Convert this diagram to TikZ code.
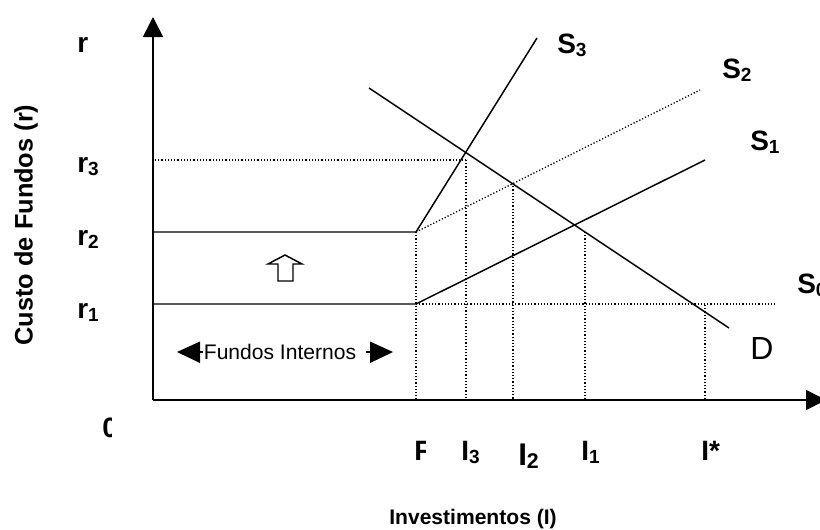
\documentclass[tikz,border=0pt]{standalone}
\usepackage{fontspec}
\setmainfont{Liberation Sans}
\usetikzlibrary{arrows.meta}
\newcommand{\lsub}[1]{\raisebox{-2.4pt}{\scalebox{0.68}{#1}}}
\begin{document}
\begin{tikzpicture}[x=0.75pt,y=-0.75pt,
  axis/.style={line width=1.2pt,-{Triangle[length=15pt,width=15pt]}},
  curve/.style={line width=1.1pt},
  dots/.style={line width=1pt,dash pattern=on 0.9pt off 1.5pt},
  lbl/.style={font=\fontsize{21}{22}\selectfont\bfseries,inner sep=0pt,anchor=base west},
  slbl/.style={font=\fontsize{21}{22}\selectfont\bfseries,inner sep=0pt,anchor=base west},
  ilbl/.style={font=\fontsize{21}{22}\selectfont\bfseries,inner sep=0pt,anchor=base west},
]
\useasboundingbox (0,0) rectangle (820,529);
% coordinates
\coordinate (O) at (153,400);
\coordinate (ytop) at (153,17);
\coordinate (xend) at (826,400);
\coordinate (A3) at (155,160);
\coordinate (A2) at (153,232);
\coordinate (A1) at (153,304);
\coordinate (K2) at (416,232);
\coordinate (K1) at (416,304);
\coordinate (S3e) at (537,38);
\coordinate (S2e) at (700,90);
\coordinate (S1e) at (705,160);
\coordinate (S0e) at (775,304);
\coordinate (Ds) at (369,88);
\coordinate (De) at (729,328);
\coordinate (P3) at (466,160);
\coordinate (P2) at (513,183);
\coordinate (P1) at (585,232);
\coordinate (Ps) at (705,305);
\coordinate (F0) at (416,400);
\coordinate (Q3) at (466,400);
\coordinate (Q2) at (513,400);
\coordinate (Q1) at (585,400);
\coordinate (Qs) at (705,400);
% dotted lines
\draw[dots] (A3) -- (P3);
\draw[dots] (K2) -- (S2e);
\draw[dots] (K1) -- (S0e);
\draw[dots] (K2) -- (F0);
\draw[dots] (P3) -- (Q3);
\draw[dots] (P2) -- (Q2);
\draw[dots] (P1) -- (Q1);
\draw[dots] (Ps) -- (Qs);
% solid curves
\draw[curve] (A2) -- (K2) -- (S3e);
\draw[curve] (A1) -- (K1) -- (S1e);
\draw[curve] (Ds) -- (De);
% axes
\draw[axis] (O) -- (ytop);
\draw[axis] (O) -- (xend);
% up arrow (outline)
\draw[line width=1.1pt,line join=miter] (285,255) -- (302,264) -- (293,264) -- (293,281) -- (278,281) -- (278,264) -- (268,264) -- cycle;
% fundos internos arrows
\fill (177,352) -- (200,341.5) -- (200,363) -- cycle;
\draw[line width=1pt] (199,352) -- (204,352);
\fill (393,352) -- (370,341.5) -- (370,363) -- cycle;
\draw[line width=1pt] (366,352) -- (371,352);
\node[font=\fontsize{15.8}{17}\selectfont,inner sep=0pt,fill=white,inner xsep=1pt] (fi) at (280,352) {Fundos Internos};
% y labels
\node[lbl] (lr) at (77,52) {r};
\node[lbl] (lr3) at (77,172) {r\lsub{3}};
\node[lbl] (lr2) at (77,245) {r\lsub{2}};
\node[lbl] (lr1) at (77,318) {r\lsub{1}};
\begin{scope}
\clip (90,410) rectangle (111,445);
\node[ilbl] (l0) at (102,437) {0};
\end{scope}
% x labels
\begin{scope}
\clip (405,430) rectangle (425,470);
\node[ilbl] (lF) at (414,460) {F};
\end{scope}
\node[ilbl] (lI3) at (461,460) {I\lsub{3}};
\node[ilbl,font=\fontsize{23.5}{25}\selectfont\bfseries] (lI2) at (518,465) {I\lsub{2}};
\node[ilbl] (lI1) at (581,460) {I\lsub{1}};
\node[ilbl] (lIs) at (701,460) {I*};
% curve labels
\node[slbl] (lS3) at (557,53) {S\lsub{3}};
\node[slbl] (lS2) at (722,78) {S\lsub{2}};
\node[slbl] (lS1) at (750,150) {S\lsub{1}};
\node[slbl] (lS0) at (797,293) {S\lsub{0}};
\node[font=\fontsize{24}{26}\selectfont,inner sep=0pt,anchor=base west] (lD) at (750,359) {D};
% axis titles
\node[font=\fontsize{19}{20}\selectfont\bfseries,inner sep=0pt,rotate=90] (ty) at (26,225) {Custo de Fundos (r)};
\node[font=\fontsize{15.8}{17}\selectfont\bfseries,inner sep=0pt,anchor=base] (tx) at (473,524) {Investimentos (I)};
\end{tikzpicture}
\end{document}
